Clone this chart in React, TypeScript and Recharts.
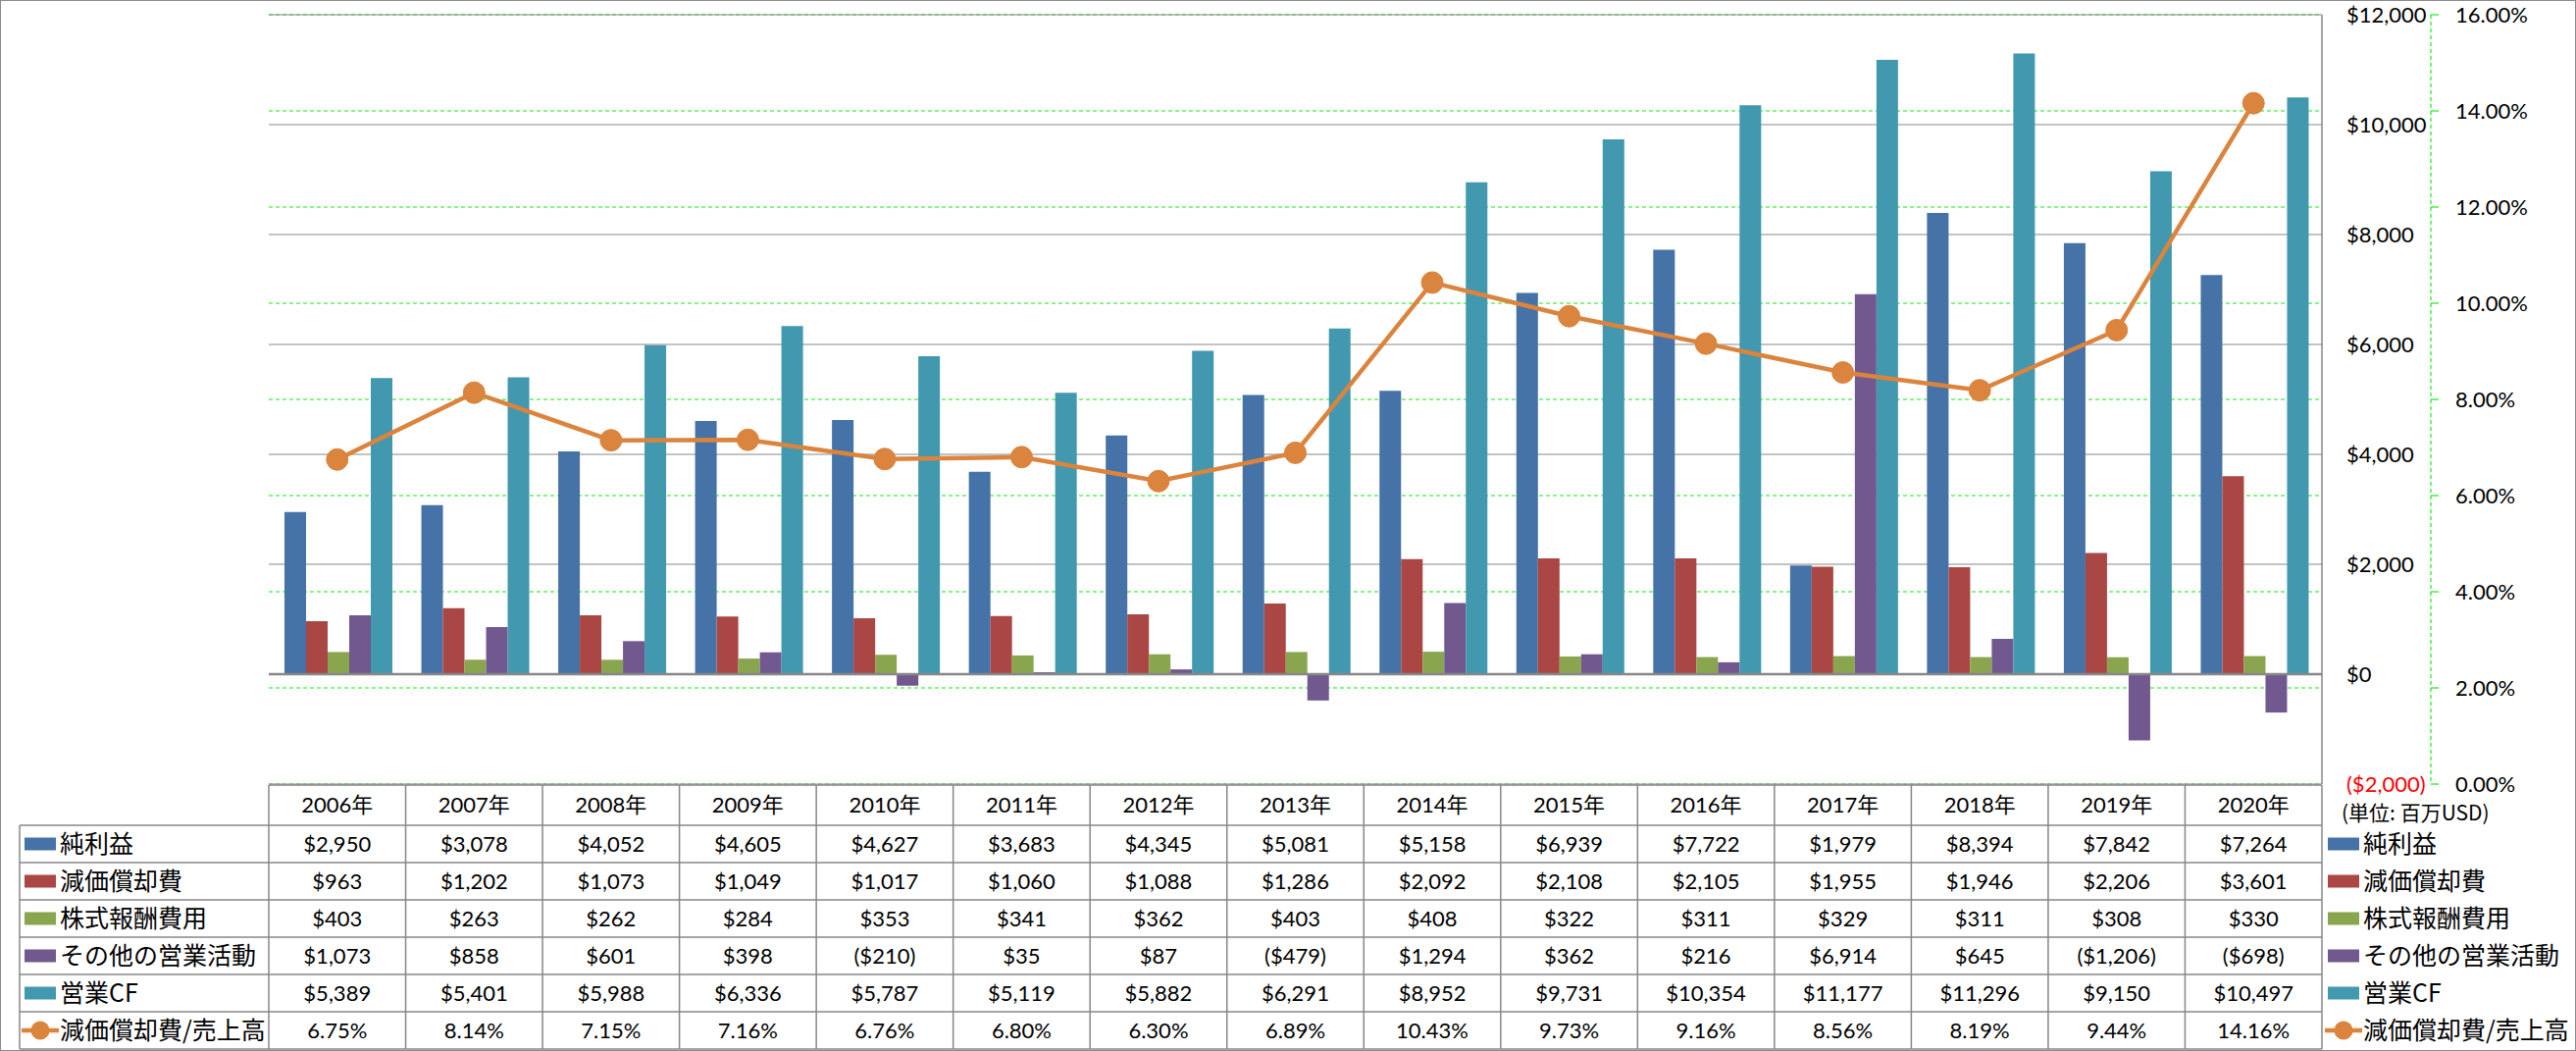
import React from 'react';
import { ComposedChart, Bar, Line, XAxis, YAxis, CartesianGrid, ReferenceLine } from 'recharts';

// ---- data ----
const years = ['2006年', '2007年', '2008年', '2009年', '2010年', '2011年', '2012年', '2013年', '2014年', '2015年', '2016年', '2017年', '2018年', '2019年', '2020年'];
const netIncome = [2950, 3078, 4052, 4605, 4627, 3683, 4345, 5081, 5158, 6939, 7722, 1979, 8394, 7842, 7264];
const depreciation = [963, 1202, 1073, 1049, 1017, 1060, 1088, 1286, 2092, 2108, 2105, 1955, 1946, 2206, 3601];
const stockComp = [403, 263, 262, 284, 353, 341, 362, 403, 408, 322, 311, 329, 311, 308, 330];
const otherOps = [1073, 858, 601, 398, -210, 35, 87, -479, 1294, 362, 216, 6914, 645, -1206, -698];
const operatingCF = [5389, 5401, 5988, 6336, 5787, 5119, 5882, 6291, 8952, 9731, 10354, 11177, 11296, 9150, 10497];
const depRatio = [6.75, 8.14, 7.15, 7.16, 6.76, 6.80, 6.30, 6.89, 10.43, 9.73, 9.16, 8.56, 8.19, 9.44, 14.16];

const usdTicks = [-2000, 0, 2000, 4000, 6000, 8000, 10000, 12000];
const pctTicks = [0, 2, 4, 6, 8, 10, 12, 14, 16];

const seriesNames = ['純利益', '減価償却費', '株式報酬費用', 'その他の営業活動', '営業CF', '減価償却費/売上高'];
const seriesKeys = ['netIncome', 'depreciation', 'stockComp', 'otherOps', 'operatingCF', 'depRatio'];
const seriesColors = ['#4572A7', '#AA4643', '#89A54E', '#71588F', '#4198AF', '#DB843D'];
const unitLabel = '(単位: 百万USD)';

const chartData = years.map((y, i) => ({
  year: y,
  netIncome: netIncome[i],
  depreciation: depreciation[i],
  stockComp: stockComp[i],
  otherOps: otherOps[i],
  operatingCF: operatingCF[i],
  depRatio: depRatio[i],
}));

// ---- layout ----
const W = 2626;
const H = 1071;
const M_LEFT = 274;
const M_TOP = 15;
const USD_AXIS_W = 111;
const PCT_AXIS_W = 148;
const X_AXIS_H = 272;
const PLOT_W = W - M_LEFT - USD_AXIS_W - PCT_AXIS_W;
const PLOT_BOTTOM = H - X_AXIS_H;
const TABLE_TOP = PLOT_BOTTOM + 1;
const HEADER_H = 41;
const ROW_H = 38;
const HEADER_BOTTOM = TABLE_TOP + HEADER_H;
const TABLE_BOTTOM = HEADER_BOTTOM + ROW_H * 6;
const LEGEND_LEFT = 20;

const USD_ID = 'a_amount';
const PCT_ID = 'b_ratio';

const GRID = '#878787';
const GREEN = '#11EE11';
const NUM_FONT = "Lato, 'Noto Sans CJK JP', sans-serif";
const JP_FONT = "'Noto Sans CJK JP', sans-serif";

const fmtUsd = (v: number) => (v < 0 ? `($${Math.abs(v).toLocaleString('en-US')})` : `$${v.toLocaleString('en-US')}`);
const fmtPct = (v: number) => `${v.toFixed(2)}%`;

function LegendKey({ x, cy, idx }: { x: number; cy: number; idx: number }) {
  const c = seriesColors[idx];
  if (seriesKeys[idx] === 'depRatio') {
    return (
      <g>
        <line x1={x - 3} x2={x + 35} y1={cy} y2={cy} stroke={c} strokeWidth={4.5} />
        <circle cx={x + 16} cy={cy} r={9.5} fill={c} />
      </g>
    );
  }
  return <rect x={x} y={cy - 6.5} width={32} height={13} fill={c} />;
}

function LegendItem({ x, cy, idx }: { x: number; cy: number; idx: number }) {
  return (
    <g>
      <LegendKey x={x} cy={cy} idx={idx} />
      <text x={x + 36} y={cy} dy="0.36em" fontSize={25} fontFamily={JP_FONT} fill="#000">
        {seriesNames[idx]}
      </text>
    </g>
  );
}

function TableColumn(props: any) {
  const { x, payload } = props;
  const i = years.indexOf(payload.value);
  const band = PLOT_W / years.length;
  const left = x - band / 2;
  const right = x + band / 2;
  const cells = [
    fmtUsd(netIncome[i]),
    fmtUsd(depreciation[i]),
    fmtUsd(stockComp[i]),
    fmtUsd(otherOps[i]),
    fmtUsd(operatingCF[i]),
    fmtPct(depRatio[i]),
  ];
  const rowLines = [0, 1, 2, 3, 4, 5, 6].map((k) => HEADER_BOTTOM + k * ROW_H);
  return (
    <g>
      <line x1={left} x2={right} y1={TABLE_TOP} y2={TABLE_TOP} stroke={GRID} strokeWidth={1.5} />
      {rowLines.map((yy, k) => (
        <line key={k} x1={left} x2={right} y1={yy} y2={yy} stroke={GRID} strokeWidth={1.5} />
      ))}
      <line x1={right} x2={right} y1={TABLE_TOP} y2={TABLE_BOTTOM} stroke={GRID} strokeWidth={1.5} />
      <text x={x} y={TABLE_TOP + HEADER_H / 2} dy="0.36em" textAnchor="middle" fontSize={22} fontFamily={NUM_FONT} fill="#000">
        {payload.value}
      </text>
      {cells.map((c, k) => (
        <text key={k} x={x} y={HEADER_BOTTOM + k * ROW_H + ROW_H / 2} dy="0.36em" textAnchor="middle" fontSize={22} fontFamily={NUM_FONT} fill="#000">
          {c}
        </text>
      ))}
      {i === 0 && (
        <g>
          <line x1={left} x2={left} y1={TABLE_TOP} y2={TABLE_BOTTOM} stroke={GRID} strokeWidth={1.5} />
          <line x1={LEGEND_LEFT} x2={LEGEND_LEFT} y1={HEADER_BOTTOM} y2={TABLE_BOTTOM} stroke={GRID} strokeWidth={1.5} />
          {rowLines.map((yy, k) => (
            <line key={k} x1={LEGEND_LEFT} x2={left} y1={yy} y2={yy} stroke={GRID} strokeWidth={1.5} />
          ))}
          {seriesNames.map((_, k) => (
            <LegendItem key={k} x={LEGEND_LEFT + 5} cy={HEADER_BOTTOM + k * ROW_H + ROW_H / 2} idx={k} />
          ))}
        </g>
      )}
      {i === years.length - 1 && (
        <g>
          <text x={right + 20} y={TABLE_TOP + 28} dy="0.36em" fontSize={21} fontFamily={JP_FONT} fill="#000">
            {unitLabel}
          </text>
          {seriesNames.map((_, k) => (
            <LegendItem key={k} x={right + 6} cy={HEADER_BOTTOM + k * ROW_H + ROW_H / 2} idx={k} />
          ))}
        </g>
      )}
    </g>
  );
}

function UsdTick(props: any) {
  const { x, y, payload } = props;
  const v = payload.value as number;
  return (
    <text x={x} y={y} dy="0.36em" textAnchor="start" fontSize={22} fontFamily={NUM_FONT} fill={v < 0 ? '#FF0000' : '#000'}>
      {fmtUsd(v)}
    </text>
  );
}

function PctTick(props: any) {
  const { x, y, payload } = props;
  return (
    <text x={x} y={y} dy="0.36em" textAnchor="start" fontSize={22} fontFamily={NUM_FONT} fill="#000">
      {fmtPct(payload.value)}
    </text>
  );
}

export default function App() {
  return (
    <div style={{ position: 'absolute', left: 0, top: 0, width: W, height: H, background: '#fff' }}>
      <ComposedChart
        width={W}
        height={H}
        data={chartData}
        margin={{ top: M_TOP, left: M_LEFT, right: 0, bottom: 0 }}
        barCategoryGap={16}
        barGap={0}
      >
        <CartesianGrid yAxisId={PCT_ID} vertical={false} stroke={GREEN} strokeDasharray="4 3" strokeWidth={1.2} />
        <CartesianGrid yAxisId={USD_ID} vertical={false} stroke={GRID} strokeWidth={1.2} />
        <XAxis
          dataKey="year"
          height={X_AXIS_H}
          axisLine={false}
          tickLine={false}
          interval={0}
          tick={TableColumn}
        />
        <YAxis
          yAxisId={USD_ID}
          orientation="right"
          width={USD_AXIS_W}
          domain={[-2000, 12000]}
          ticks={usdTicks}
          interval={0}
          allowDataOverflow
          axisLine={{ stroke: GRID, strokeWidth: 1.5 }}
          tickLine={false}
          tickSize={0}
          tickMargin={25}
          tick={UsdTick}
        />
        <YAxis
          yAxisId={PCT_ID}
          orientation="right"
          width={PCT_AXIS_W}
          domain={[0, 16]}
          ticks={pctTicks}
          interval={0}
          allowDataOverflow
          axisLine={{ stroke: GREEN, strokeDasharray: '4 3', strokeWidth: 1.2 }}
          tickLine={{ stroke: GREEN, strokeWidth: 1.2 }}
          tickSize={8}
          tickMargin={17}
          tick={PctTick}
        />
        <ReferenceLine yAxisId={USD_ID} y={0} stroke={GRID} strokeWidth={2.5} />
        {seriesKeys.slice(0, 5).map((k, idx) => (
          <Bar key={k} yAxisId={USD_ID} dataKey={k} name={seriesNames[idx]} fill={seriesColors[idx]} isAnimationActive={false} />
        ))}
        <Line
          yAxisId={PCT_ID}
          dataKey="depRatio"
          name={seriesNames[5]}
          stroke={seriesColors[5]}
          strokeWidth={4.5}
          dot={{ r: 11, fill: seriesColors[5], stroke: seriesColors[5], strokeWidth: 1 }}
          isAnimationActive={false}
        />
      </ComposedChart>
      <div
        style={{
          position: 'absolute',
          left: 0,
          top: 0,
          width: W,
          height: H,
          boxSizing: 'border-box',
          border: '1.5px solid #8a8a8a',
          pointerEvents: 'none',
        }}
      />
    </div>
  );
}
